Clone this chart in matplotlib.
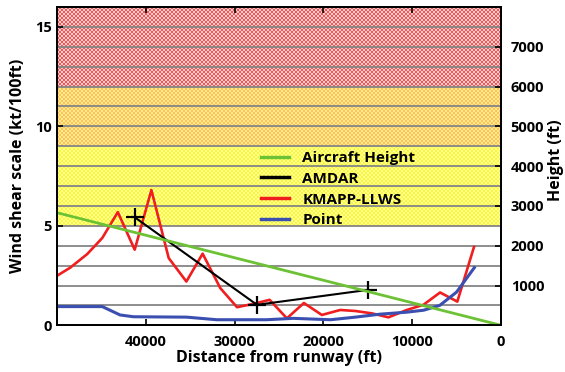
import numpy as np
import matplotlib
matplotlib.use("Agg")
import matplotlib.pyplot as plt

plt.rcParams['font.family'] = ['Open Sans', 'DejaVu Sans']
plt.rcParams['font.weight'] = 'bold'

# Wind shear severity bands (kt/100ft): lower, upper and the two checker colours
band_limits = [(5, 9), (9, 12), (12, 16)]
band_colors = [("#ffff00", "#ffffd2"), ("#ffc640", "#ffe7aa"), ("#f0585a", "#fbcccc")]

# KMAPP-LLWS wind shear along the approach
kmapp_dist = [50000, 48500, 46600, 44900, 43150, 41250, 39370, 37420, 35430, 33600,
              31610, 29730, 27860, 26060, 24110, 22200, 20170, 18110, 16420, 14540,
              12680, 10610, 8740, 6860, 4920, 3040]
kmapp_ws = [2.49, 2.90, 3.58, 4.39, 5.69, 3.80, 6.80, 3.38, 2.20, 3.60,
            1.87, 0.91, 1.08, 1.28, 0.35, 1.12, 0.52, 0.77, 0.72, 0.60,
            0.40, 0.77, 1.03, 1.65, 1.19, 3.94]

# Point wind shear
point_dist = [50000, 44900, 42900, 41400, 35400, 32000, 26400, 23400, 19200, 16400,
              13600, 10600, 8700, 6900, 5000, 3000]
point_ws = [0.94, 0.94, 0.52, 0.43, 0.41, 0.28, 0.28, 0.35, 0.28, 0.41,
            0.56, 0.66, 0.76, 1.00, 1.67, 2.90]

# AMDAR wind shear
amdar_dist = [41250, 27480, 15000]
amdar_ws = [5.43, 1.03, 1.78]

# Aircraft height on the approach path (ft)
aircraft_dist = [50000, 0]
aircraft_height = [2830, 0]

W, H, DPI = 565, 372, 100
fig = plt.figure(figsize=(W / DPI, H / DPI), dpi=DPI)
ax = fig.add_axes([57 / W, 1 - 325.3 / H, 444 / W, 318.3 / H])
ax.set_xlim(50000, 0)
ax.set_ylim(0, 16)

# checkered severity bands, one image pixel per screen pixel
ax_w_px = 444
px_per_unit = 318.3 / 16
for (lo, hi), (c1, c2) in zip(band_limits, band_colors):
    h_px = int(round((hi - lo) * px_per_unit))
    ii, jj = np.mgrid[0:h_px, 0:ax_w_px]
    mask = ((ii // 2 + jj // 2) % 2).astype(bool)
    img = np.empty((h_px, ax_w_px, 3))
    img[mask] = matplotlib.colors.to_rgb(c1)
    img[~mask] = matplotlib.colors.to_rgb(c2)
    ax.imshow(img, extent=(50000, 0, lo, hi), aspect='auto',
              interpolation='nearest', zorder=0)
ax.set_xlim(50000, 0)
ax.set_ylim(0, 16)

for yv in range(1, 16):
    ax.axhline(yv, color="#858585", lw=1.3, zorder=1)

ax.plot(kmapp_dist, kmapp_ws, color="#f01e1e", lw=1.9, zorder=3, label="KMAPP-LLWS")
ax.plot(point_dist, point_ws, color="#3a4fb0", lw=2.2, zorder=3, label="Point")
ax.plot(amdar_dist, amdar_ws, color="black", lw=1.5, marker='+', ms=13, mew=1.6,
        zorder=4, label="AMDAR")

ax.set_yticks([0, 5, 10, 15])
ax.set_xticks([40000, 30000, 20000, 10000, 0])
ax.tick_params(axis='both', direction='in', labelsize=10.5, width=1.2, length=4)
ax.tick_params(axis='x', top=True, pad=7)
ax.tick_params(axis='y', pad=4)
for t in ax.get_xticklabels() + ax.get_yticklabels():
    t.set_fontweight('bold')
ax.set_xlabel("Distance from runway (ft)", fontsize=11.5, fontweight='bold', labelpad=1)
ax.set_ylabel("Wind shear scale (kt/100ft)", fontsize=11.5, fontweight='bold', labelpad=6)

ax2 = ax.twinx()
ax2.set_ylim(0, 8000)
ax2.plot(aircraft_dist, aircraft_height, color="#6cc234", lw=2.0, zorder=2,
         label="Aircraft Height")
ax2.set_yticks([1000, 2000, 3000, 4000, 5000, 6000, 7000])
ax2.tick_params(axis='y', direction='in', labelsize=10.5, width=1.2, length=4, pad=7)
for t in ax2.get_yticklabels():
    t.set_fontweight('bold')
ax2.set_ylabel("Height (ft)", fontsize=11.5, fontweight='bold')
ax2.yaxis.set_label_coords(1.105, 0.52)

for a in (ax, ax2):
    for s in a.spines.values():
        s.set_linewidth(1.3)

h1, l1 = ax.get_legend_handles_labels()
h2, l2 = ax2.get_legend_handles_labels()
order = {"Aircraft Height": 0, "AMDAR": 1, "KMAPP-LLWS": 2, "Point": 3}
pairs = sorted(zip(h1 + h2, l1 + l2), key=lambda p: order[p[1]])
leg = ax2.legend([p[0] for p in pairs], [p[1] for p in pairs],
                 loc='upper left', bbox_to_anchor=(0.46, 0.548), frameon=False,
                 prop={'size': 11, 'weight': 'bold'}, handlelength=1.8,
                 handletextpad=0.9, labelspacing=0.45, borderpad=0, borderaxespad=0)
for line in leg.get_lines():
    line.set_marker('')
    line.set_linewidth(2.5)

fig.savefig("out.png", dpi=DPI)
